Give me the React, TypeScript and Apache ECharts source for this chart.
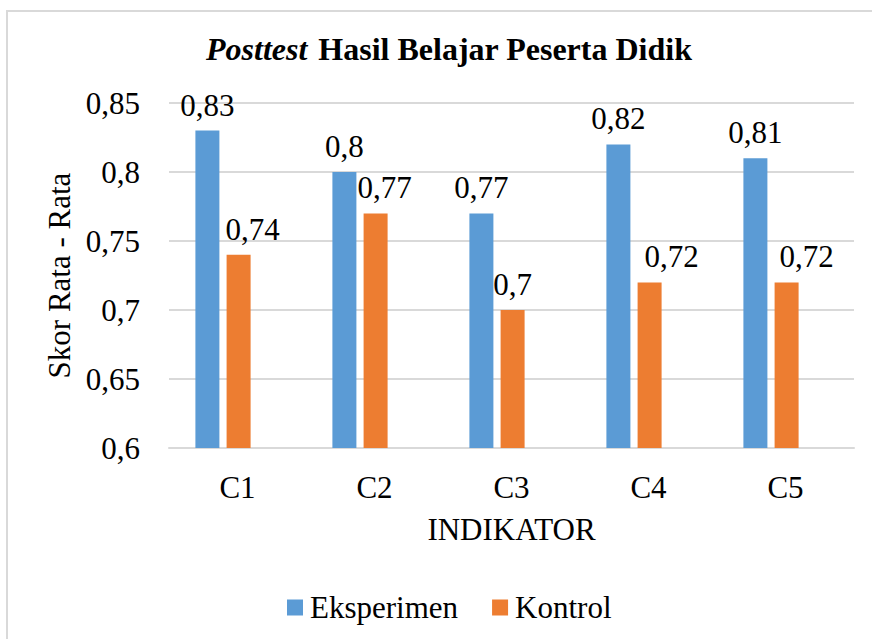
import React, { useEffect, useRef } from "react";
import * as echarts from "echarts";

const categories = ["C1", "C2", "C3", "C4", "C5"];
const eksperimen = [0.83, 0.8, 0.77, 0.82, 0.81];
const kontrol = [0.74, 0.77, 0.7, 0.72, 0.72];
const seriesNames = ["Eksperimen", "Kontrol"];
// horizontal nudges of the Kontrol value labels (style only)
const kontrolLabelDx = [14, 9, 0, 22, 20];

const FONT = "Liberation Serif";
const fmt = (v: number) => String(+Number(v).toFixed(2)).replace(".", ",");

export default function App() {
  const ref = useRef<HTMLDivElement>(null);
  useEffect(() => {
    const chart = echarts.init(ref.current!, null, { renderer: "svg" });
    const top = 103;
    const bottom = 639 - 448;
    chart.setOption({
      animation: false,
      backgroundColor: "#ffffff",
      textStyle: { fontFamily: FONT },
      title: {
        text: "{i|Posttest}{s|}{b| Hasil Belajar Peserta Didik}",
        left: 201,
        top: 28,
        textStyle: {
          fontFamily: FONT,
          rich: {
            i: { fontFamily: FONT, fontSize: 32, fontWeight: "bold", fontStyle: "italic", color: "#000" },
            s: { width: 3 },
            b: { fontFamily: FONT, fontSize: 32, fontWeight: "bold", color: "#000" },
          },
        },
      },
      graphic: [
        {
          type: "rect",
          shape: { x: 7, y: 11, width: 900, height: 700 },
          style: { fill: "none", stroke: "#d9d9d9", lineWidth: 2 },
          silent: true,
          z: -1,
        },
      ],
      legend: {
        data: seriesNames,
        bottom: 16,
        left: 287,
        padding: 0,
        itemWidth: 16,
        itemHeight: 16,
        itemGap: 34,
        icon: "rect",
        textStyle: { fontFamily: FONT, fontSize: 31, color: "#000", padding: [0, 0, 0, 2] },
      },
      grid: [
        { left: 154.5, right: 32.5, top, bottom },
        { left: 169, right: 18, top, bottom },
      ],
      xAxis: [
        { type: "category", gridIndex: 0, data: categories, show: false },
        {
          type: "category",
          gridIndex: 1,
          data: categories,
          axisTick: { show: false },
          axisLine: { lineStyle: { color: "#d9d9d9", width: 2 } },
          axisLabel: { fontFamily: FONT, fontSize: 31, color: "#000", margin: 24 },
          name: "INDIKATOR",
          nameLocation: "middle",
          nameGap: 66,
          nameTextStyle: { fontFamily: FONT, fontSize: 31, color: "#000" },
        },
      ],
      yAxis: [
        { type: "value", gridIndex: 0, min: 0.6, max: 0.85, interval: 0.05, show: false, splitLine: { show: false } },
        {
          type: "value",
          gridIndex: 1,
          min: 0.6,
          max: 0.85,
          interval: 0.05,
          axisLine: { show: false },
          axisTick: { show: false },
          splitLine: { lineStyle: { color: "#d9d9d9", width: 2 } },
          axisLabel: { fontFamily: FONT, fontSize: 31, color: "#000", margin: 29, formatter: fmt },
          name: "Skor Rata - Rata",
          nameLocation: "middle",
          nameGap: 92,
          nameTextStyle: { fontFamily: FONT, fontSize: 31, color: "#000" },
        },
      ],
      series: [
        {
          name: seriesNames[0],
          type: "bar",
          xAxisIndex: 0,
          yAxisIndex: 0,
          data: eksperimen,
          barWidth: 24,
          barGap: "30%",
          itemStyle: { color: "#5B9BD5" },
          label: {
            show: true,
            position: "top",
            distance: 10,
            fontFamily: FONT,
            fontSize: 31,
            color: "#000",
            formatter: (p: any) => fmt(p.value),
          },
        },
        {
          name: seriesNames[1],
          type: "bar",
          xAxisIndex: 0,
          yAxisIndex: 0,
          data: kontrol.map((v, i) => ({ value: v, label: { offset: [kontrolLabelDx[i], 0] } })),
          barWidth: 24,
          itemStyle: { color: "#ED7D31" },
          label: {
            show: true,
            position: "top",
            distance: 10,
            fontFamily: FONT,
            fontSize: 31,
            color: "#000",
            formatter: (p: any) => fmt(p.value),
          },
        },
      ],
    });
    return () => chart.dispose();
  }, []);
  return (
    <div
      ref={ref}
      style={{ position: "fixed", left: 0, top: 0, width: 872, height: 639 }}
    />
  );
}
